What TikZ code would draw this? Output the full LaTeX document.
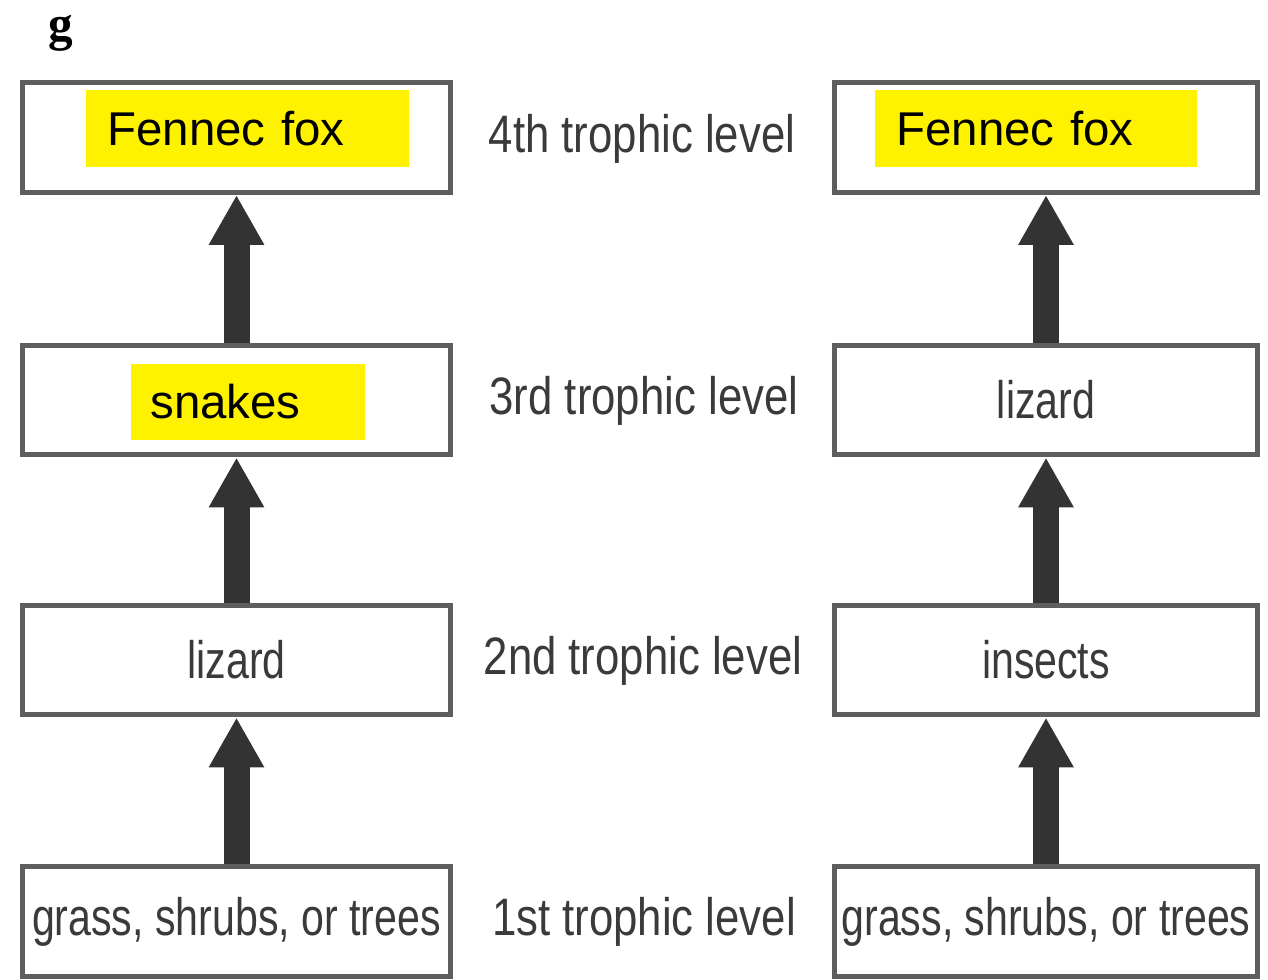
\documentclass[tikz,border=0pt]{standalone}
\usepackage{fontspec}
\setmainfont{Liberation Sans}
\newfontfamily\narrowfont[FakeStretch=0.78]{Liberation Sans}
\newfontfamily\tagfont[FakeStretch=0.83]{Liberation Sans}
\newfontfamily\seriffont{Liberation Serif}
\usetikzlibrary{arrows.meta}
\definecolor{boxgray}{HTML}{5E5E5E}
\definecolor{textgray}{HTML}{3A3A3A}
\definecolor{arrowgray}{HTML}{333333}
\tikzset{
  level/.style={draw=boxgray,line width=0.1cm,fill=white,minimum height=2.2cm,
    inner sep=0pt,text=textgray,font=\narrowfont\fontsize{30}{36}\selectfont},
  lbox/.style={level,minimum width=8.56cm},
  rbox/.style={level,minimum width=8.46cm},
  tag/.style={text=textgray,font=\tagfont\fontsize{30}{36}\selectfont},
  hl/.style={fill=yellow,anchor=west,inner xsep=#1,inner ysep=0pt,align=left,
    minimum height=1.54cm,font=\fontsize{27}{32}\selectfont},
  feeds/.style={arrowgray,line width=0.52cm,
    -{Triangle[width=1.04cm,length=1.0cm]}}
}
\begin{document}
\begin{tikzpicture}[x=0.02cm,y=-0.02cm]
        \useasboundingbox (0,0) rectangle (1268,980);
        \draw (61,41) node[anchor=base,inner sep=0pt,font=\seriffont\bfseries\fontsize{28}{34}\selectfont](panel){g};
        % left chain
        \draw (236.5,137.5) node[lbox](lfour){};
        \draw (236.5,400) node[lbox](lthree){};
        \draw (236.5,660) node[lbox](ltwo){lizard};
        \draw (236.5,921.5) node[lbox](lone){grass, shrubs, or trees};
        \draw (86,128.5) node[hl=0.42cm,text width=5.62cm](lfox){Fennec fox};
        \draw (131,402) node[hl=0.38cm,text width=3.92cm](lsnake){snakes};
        % right chain
        \draw (1046,137.5) node[rbox](rfour){};
        \draw (1046,400) node[rbox](rthree){lizard};
        \draw (1046,660) node[rbox](rtwo){insects};
        \draw (1046,921.5) node[rbox](rone){grass, shrubs, or trees};
        \draw (875,128.5) node[hl=0.42cm,text width=5.6cm](rfox){Fennec fox};
        % trophic levels
        \draw (642,139) node[tag](tfour){4th trophic level};
        \draw (644,401) node[tag](tthree){3rd trophic level};
        \draw (643,661) node[tag](ttwo){2nd trophic level};
        \draw (644,922) node[tag](tone){1st trophic level};
        \draw[feeds] (lone.north) -- (ltwo.south);
        \draw[feeds] (ltwo.north) -- (lthree.south);
        \draw[feeds] (lthree.north) -- (lfour.south);
        \draw[feeds] (rone.north) -- (rtwo.south);
        \draw[feeds] (rtwo.north) -- (rthree.south);
        \draw[feeds] (rthree.north) -- (rfour.south);
\end{tikzpicture}
\end{document}
